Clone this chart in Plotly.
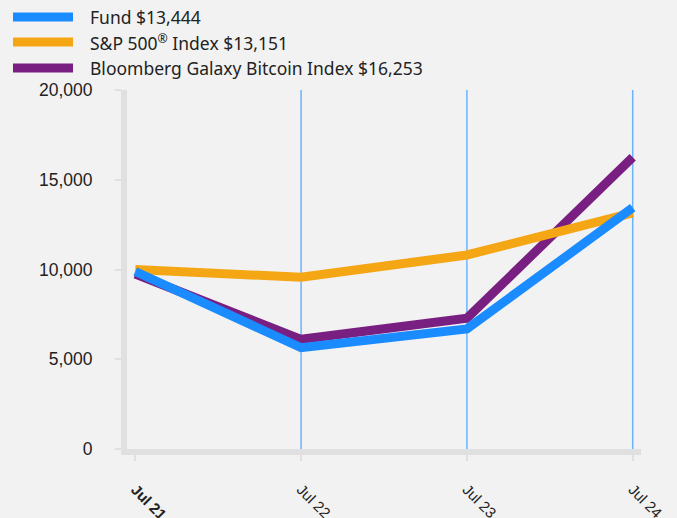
import plotly.graph_objects as go

periods = ["Jul 21", "Jul 22", "Jul 23", "Jul 24"]
period_labels = ["<b>Jul 21</b>", "Jul 22", "Jul 23", "Jul 24"]
fund = [9890, 5640, 6685, 13444]
sp500 = [10000, 9565, 10810, 13151]
bitcoin = [9750, 6110, 7280, 16253]

legend_labels = ["Fund $13,444", "S&P 500<sup>®</sup> Index $13,151",
                 "Bloomberg Galaxy Bitcoin Index $16,253"]
colors = ["#1a8cff", "#f5a614", "#7a1f82"]
y_ticks = [0, 5000, 10000, 15000, 20000]
y_tick_text = ["0", "5,000", "10,000", "15,000", "20,000"]

W, H = 677, 518
ML, MR, MT, MB = 127, 36, 90, 69
PW, PH = W - ML - MR, H - MT - MB


def px_x(x):
    return (x - ML) / PW


def px_y(y):
    return (H - MB - y) / PH


fig = go.Figure()
# draw order: bitcoin, S&P, fund (fund on top)
fig.add_trace(go.Scatter(x=periods, y=bitcoin, mode="lines", name=legend_labels[2],
                         line=dict(color=colors[2], width=9), showlegend=False))
fig.add_trace(go.Scatter(x=periods, y=sp500, mode="lines", name=legend_labels[1],
                         line=dict(color=colors[1], width=9), showlegend=False))
fig.add_trace(go.Scatter(x=periods, y=fund, mode="lines", name=legend_labels[0],
                         line=dict(color=colors[0], width=9), showlegend=False))

shapes = []
for p in periods[1:]:
    shapes.append(dict(type="line", xref="x", yref="paper", x0=p, x1=p, y0=0, y1=1,
                       line=dict(color="#6cb3ff", width=1.5), layer="below"))

annotations = []
legend_y = [17, 42, 68]
for i, (lab, col) in enumerate(zip(legend_labels, colors)):
    yy = px_y(legend_y[i])
    shapes.append(dict(type="line", xref="paper", yref="paper",
                       x0=px_x(13), x1=px_x(73), y0=yy, y1=yy,
                       line=dict(color=col, width=9)))
    annotations.append(dict(xref="paper", yref="paper", x=px_x(88), y=yy,
                            text=lab, showarrow=False, xanchor="left", yanchor="middle",
                            font=dict(family="Noto Sans, sans-serif", size=17.5, color="#222")))

fig.update_layout(
    width=W, height=H,
    paper_bgcolor="#f2f2f2", plot_bgcolor="#f2f2f2",
    margin=dict(l=ML, r=MR, t=MT, b=MB),
    showlegend=False,
    xaxis=dict(
        type="category", range=[-0.05, 3.05], automargin=False,
        tickvals=periods, ticktext=period_labels,
        showgrid=False, zeroline=False,
        showline=True, linecolor="#e0e0e0", linewidth=6,
        ticks="outside", ticklen=6, tickcolor="#e0e0e0", tickwidth=2,
        tickangle=45, ticklabelstandoff=14,
        tickfont=dict(family="Liberation Sans, Arial, sans-serif", size=15, color="#222"),
    ),
    yaxis=dict(
        range=[0, 20000], tickvals=y_ticks, ticktext=y_tick_text, automargin=False,
        showgrid=False, zeroline=False,
        showline=True, linecolor="#e0e0e0", linewidth=6,
        ticks="outside", ticklen=6, tickcolor="#e0e0e0", tickwidth=2,
        ticklabelstandoff=19,
        tickfont=dict(family="Liberation Sans, Arial, sans-serif", size=17.5, color="#222"),
    ),
    shapes=shapes,
    annotations=annotations,
)

fig.write_html("out.html")
